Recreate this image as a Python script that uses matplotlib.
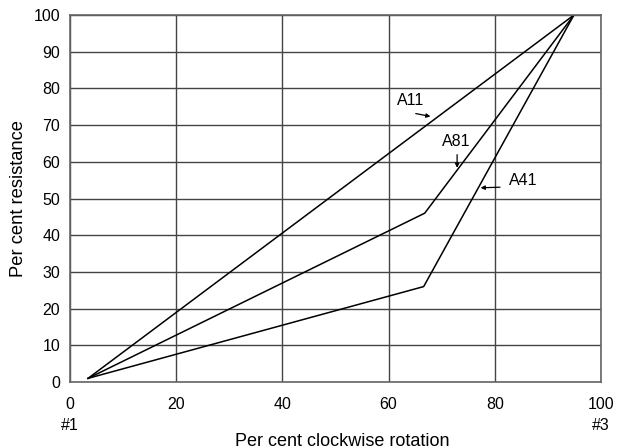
import numpy as np
import matplotlib.pyplot as plt

plt.rcParams['font.family'] = ['Liberation Sans', 'DejaVu Sans']

# curve data (x = % rotation, y = % resistance)
a11_x = [3.4, 94.9]
a11_y = [1, 100]
a81_x = [3.4, 66.8, 94.9]
a81_y = [1, 46, 100]
a41_x = [3.4, 66.6, 94.9]
a41_y = [1, 26, 100]

xticks = [0, 20, 40, 60, 80, 100]
yticks = list(range(0, 101, 10))
# terminal markings under the x axis ends
term_x = [0, 100]
term_labels = ['#1', '#3']

fig = plt.figure(figsize=(6.18, 4.48), dpi=100)
ax = fig.add_axes([0.1133, 0.1473, 0.8592, 0.8192])

ax.plot(a11_x, a11_y, color='black', lw=1.1)
ax.plot(a81_x, a81_y, color='black', lw=1.1)
ax.plot(a41_x, a41_y, color='black', lw=1.1)

ax.set_xlim(0, 100)
ax.set_ylim(0, 100)
ax.set_xticks(xticks)
ax.set_xticklabels([str(v) for v in xticks], fontsize=11.5)
ax.set_yticks(yticks)
ax.set_yticklabels([str(v) for v in yticks], fontsize=11.5)
ax.tick_params(axis='both', length=0, colors='black')
ax.tick_params(axis='y', pad=7)
ax.tick_params(axis='x', pad=11)
ax.grid(True, color='#444444', lw=1.0)
for s in ax.spines.values():
    s.set_color('#666666')
    s.set_linewidth(1.2)

for tx, tl in zip(term_x, term_labels):
    ax.annotate(tl, xy=(tx, 0), xycoords=('data', 'axes fraction'),
                xytext=(0, -43), textcoords='offset pixels',
                ha='center', va='center', fontsize=11.5)

ax.set_xlabel('Per cent clockwise rotation', fontsize=13, va='center')
ax.xaxis.set_label_coords(0.512, -59 / 367)
ax.set_ylabel('Per cent resistance', fontsize=13.2, va='center')
ax.yaxis.set_label_coords(-52 / 531, 0.5)

# labels with leader arrows
arrow = dict(arrowstyle='-|>', color='black', lw=0.9, mutation_scale=6)
ax.text(64.2, 76.6, 'A11', fontsize=11.5, ha='center', va='center')
ax.annotate('', xy=(68.4, 72.2), xytext=(64.6, 73.3), arrowprops=arrow)
ax.text(72.7, 65.4, 'A81', fontsize=11.5, ha='center', va='center')
ax.annotate('', xy=(72.9, 57.6), xytext=(72.9, 62.7), arrowprops=arrow)
ax.text(85.3, 55.0, 'A41', fontsize=11.5, ha='center', va='center')
ax.annotate('', xy=(76.8, 52.9), xytext=(81.5, 53.1), arrowprops=arrow)

fig.savefig('out.png', dpi=100)
